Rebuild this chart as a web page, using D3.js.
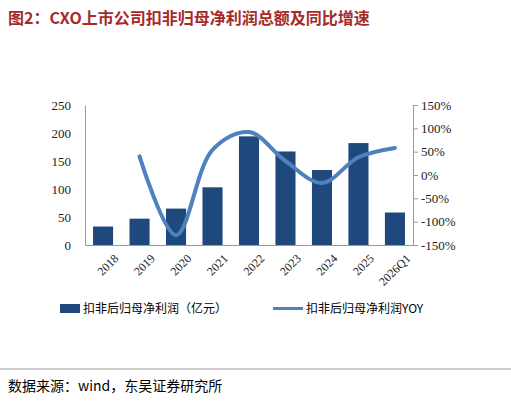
<!DOCTYPE html><html><head><meta charset="utf-8"><script src="https://cdn.jsdelivr.net/npm/d3@7"></script>
<style>body{margin:0;background:#fff}</style></head><body><svg id="c" width="511" height="402"></svg>
<script>
const categories=["2018","2019","2020","2021","2022","2023","2024","2025","2026Q1"];
const profit=[33,47,65,103,194,167,134,182,58];
const yoy=[null,40,-129,54,92,30,-17,38,58];
const leftTicks=[0,50,100,150,200,250];
const rightTicks=[-150,-100,-50,0,50,100,150];
const svg=d3.select("#c");
const ser="'Times New Roman','Liberation Serif',serif";
svg.append("text").attr("x",8).attr("y",24).attr("font-family","'Noto Sans CJK SC'").attr("font-weight","bold").attr("font-size",16).attr("fill","#a52a2a").text("图2：CXO上市公司扣非归母净利润总额及同比增速");
svg.append("line").attr("x1",0).attr("x2",511).attr("y1",369).attr("y2",369).attr("stroke","#999").attr("stroke-width",1);
svg.append("text").attr("x",8).attr("y",391).attr("font-family","'Noto Sans CJK SC'").attr("font-size",14).attr("fill","#000").text("数据来源：wind，东吴证券研究所");
const L=85,R=413,T=105,B=245;
const x=d3.scaleBand().domain(categories).range([L,R]).paddingInner(0.45).paddingOuter(0.22);
const y=d3.scaleLinear().domain([0,250]).range([B,T]);
const y2=d3.scaleLinear().domain([-150,150]).range([B,T]);
const gl=svg.append("g").attr("transform",`translate(${L},0)`).call(d3.axisLeft(y).tickValues(leftTicks).tickSize(0).tickPadding(14));
const gr=svg.append("g").attr("transform",`translate(${R},0)`).call(d3.axisRight(y2).tickValues(rightTicks).tickSize(5).tickPadding(3).tickFormat(d=>d+"%"));
const gb=svg.append("g").attr("transform",`translate(0,${B})`).call(d3.axisBottom(x).tickSize(0).tickPadding(6));
[gl,gr,gb].forEach(g=>{g.selectAll("text").attr("font-family",ser).attr("font-size",13).attr("fill","#222");g.select(".domain").attr("stroke","#999");g.selectAll(".tick line").attr("stroke","#999");});
gb.selectAll("text").attr("font-size",12).attr("text-anchor","end").attr("transform","translate(6,4) rotate(-45)");
svg.selectAll(".bar").data(profit).join("rect").attr("x",(d,i)=>x(categories[i])).attr("width",x.bandwidth()).attr("y",d=>y(d)).attr("height",d=>B-y(d)).attr("fill","#1f497d");
const pts=yoy.map((v,i)=>[x(categories[i])+x.bandwidth()/2,v]).filter(p=>p[1]!==null);
svg.append("path").attr("d",d3.line().x(p=>p[0]).y(p=>y2(p[1])).curve(d3.curveCatmullRom.alpha(0.5))(pts)).attr("fill","none").attr("stroke","#4f81bd").attr("stroke-width",4).attr("stroke-linecap","round");
const lg=svg.append("g").attr("font-family","'Noto Sans CJK SC'").attr("font-size",12);
lg.append("rect").attr("x",60).attr("y",304).attr("width",20).attr("height",9).attr("fill","#1f497d");
lg.append("text").attr("x",83).attr("y",313).text("扣非后归母净利润（亿元）");
lg.append("line").attr("x1",273).attr("x2",303).attr("y1",308.5).attr("y2",308.5).attr("stroke","#4f81bd").attr("stroke-width",3);
lg.append("text").attr("x",306).attr("y",313).text("扣非后归母净利润YOY");
</script></body></html>
